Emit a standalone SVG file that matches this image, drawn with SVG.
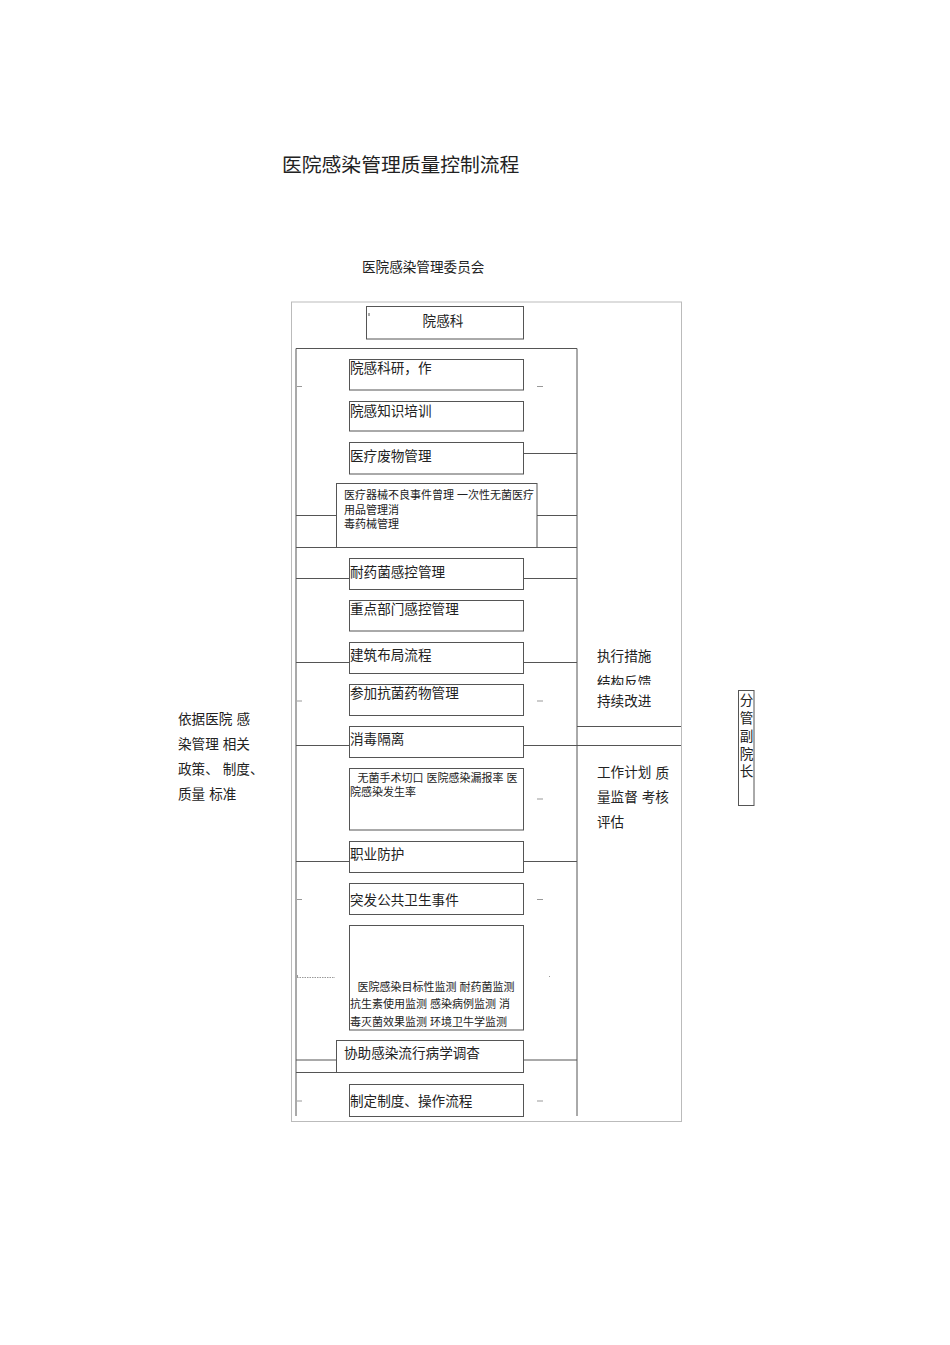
<svg xmlns="http://www.w3.org/2000/svg" width="950" height="1345" viewBox="0 0 950 1345">
<defs>
<style>
text{font-family:"Liberation Sans","Noto Sans CJK SC",sans-serif;fill:#222;}
.t{font-size:13.6px;dominant-baseline:central;}
.s{font-size:11px;dominant-baseline:central;}
.box{fill:#fff;stroke:#555;stroke-width:1;}
.ln{stroke:#555;stroke-width:1;fill:none;}
.dash{stroke:#999;stroke-width:1;}
</style>
<clipPath id="clipFb"><rect x="590" y="670" width="80" height="15"/></clipPath>
</defs>
<rect width="950" height="1345" fill="#fff"/>
<text x="282" y="165" style="font-size:19.8px;dominant-baseline:central">医院感染管理质量控制流程</text>
<text x="362" y="267" style="font-size:13.6px;dominant-baseline:central">医院感染管理委员会</text>
<rect x="291.5" y="302" width="390" height="819.5" fill="none" stroke="#bbb" stroke-width="1"/>

<g id="connectors">
<line class="ln" x1="296" y1="348.5" x2="577" y2="348.5"/>
<line class="ln" x1="296" y1="348.5" x2="296" y2="1116"/>
<line class="ln" x1="577" y1="348.5" x2="577" y2="1116"/>
<line class="ln" x1="523" y1="453.5" x2="577" y2="453.5"/>
<line class="ln" x1="296" y1="515.5" x2="336" y2="515.5"/>
<line class="ln" x1="537" y1="515.5" x2="577" y2="515.5"/>
<line class="ln" x1="296" y1="547.5" x2="577" y2="547.5"/>
<line class="ln" x1="296" y1="578.5" x2="349" y2="578.5"/>
<line class="ln" x1="523" y1="578.5" x2="577" y2="578.5"/>
<line class="ln" x1="296" y1="662.5" x2="349" y2="662.5"/>
<line class="ln" x1="523" y1="662.5" x2="577" y2="662.5"/>
<line class="ln" x1="577" y1="726.5" x2="681" y2="726.5"/>
<line class="ln" x1="296" y1="745.5" x2="349" y2="745.5"/>
<line class="ln" x1="523" y1="745.5" x2="681" y2="745.5"/>
<line class="ln" x1="296" y1="861.5" x2="349" y2="861.5"/>
<line class="ln" x1="523" y1="861.5" x2="577" y2="861.5"/>
<line class="ln" x1="296" y1="1060" x2="336" y2="1060"/>
<line class="ln" x1="523" y1="1060" x2="577" y2="1060"/>
<line class="ln" x1="296" y1="1072.5" x2="336" y2="1072.5"/>
<line class="dash" x1="297" y1="386.5" x2="302" y2="386.5"/>
<line class="dash" x1="537" y1="386.5" x2="543" y2="386.5"/>
<line class="dash" x1="297" y1="701" x2="302" y2="701"/>
<line class="dash" x1="537" y1="701" x2="543" y2="701"/>
<line class="dash" x1="537" y1="799" x2="543" y2="799"/>
<line class="dash" x1="297" y1="899.5" x2="302" y2="899.5"/>
<line class="dash" x1="537" y1="899.5" x2="543" y2="899.5"/>
<line class="dash" x1="297" y1="977.5" x2="335" y2="977.5" stroke-dasharray="1.5,1"/>
<line class="dash" x1="297.5" y1="975" x2="297.5" y2="978"/>
<line class="dash" x1="549" y1="976.5" x2="550" y2="976.5"/>
<line class="dash" x1="297" y1="1101" x2="302" y2="1101"/>
<line class="dash" x1="537" y1="1101" x2="543" y2="1101"/>
</g>

<g id="n-yuanganke">
<rect class="box" x="366.5" y="306.5" width="157" height="32.5"/>
<line x1="369" y1="313" x2="369" y2="316" stroke="#555"/>
<text class="t" x="443" y="321.5" text-anchor="middle">院感科</text>
</g>
<g id="n-keyan">
<rect class="box" x="349.5" y="359.5" width="174" height="30.5"/>
<text class="t" x="350" y="368.5">院感科研，作</text>
</g>
<g id="n-peixun">
<rect class="box" x="349.5" y="401.5" width="174" height="29.5"/>
<text class="t" x="350" y="411.5">院感知识培训</text>
</g>
<g id="n-feiwu">
<rect class="box" x="349.5" y="442.5" width="174" height="31.5"/>
<text class="t" x="350" y="456.5">医疗废物管理</text>
</g>
<g id="n-qixie">
<rect class="box" x="336.5" y="483.5" width="200.5" height="64"/>
<text class="s" x="344" y="494.5">医疗器械不良事件曾理<tspan dx="3">一次性无菌医疗</tspan></text>
<text class="s" x="344" y="509.5">用品管理消</text>
<text class="s" x="344" y="524">毒药械管理</text>
</g>
<g id="n-naiyao">
<rect class="box" x="349.5" y="558.5" width="174" height="31"/>
<text class="t" x="350" y="572.5">耐药菌感控管理</text>
</g>
<g id="n-zhongdian">
<rect class="box" x="349.5" y="600.5" width="174" height="30.5"/>
<text class="t" x="350" y="609.5">重点部门感控管理</text>
</g>
<g id="n-jianzhu">
<rect class="box" x="349.5" y="642.5" width="174" height="31"/>
<text class="t" x="350" y="655.5">建筑布局流程</text>
</g>
<g id="n-kangjun">
<rect class="box" x="349.5" y="684.5" width="174" height="31"/>
<text class="t" x="350" y="693.5">参加抗菌药物管理</text>
</g>
<g id="n-xiaodu">
<rect class="box" x="349.5" y="726.5" width="174" height="31"/>
<text class="t" x="350" y="739">消毒隔离</text>
</g>
<g id="n-wujun">
<rect class="box" x="349.5" y="768.5" width="174" height="61.5"/>
<text class="s" x="357.5" y="777.5">无菌手术切口<tspan dx="3">医院感染漏报率</tspan><tspan dx="3">医</tspan></text>
<text class="s" x="350" y="792">院感染发生率</text>
</g>
<g id="n-zhiye">
<rect class="box" x="349.5" y="841.5" width="174" height="31"/>
<text class="t" x="350" y="854.5">职业防护</text>
</g>
<g id="n-tufa">
<rect class="box" x="349.5" y="883.5" width="174" height="31"/>
<text class="t" x="350" y="900.5">突发公共卫生事件</text>
</g>
<g id="n-jiance">
<rect class="box" x="349.5" y="925.5" width="174" height="104.5"/>
<text class="s" x="357.5" y="986.5">医院感染目标性监测<tspan dx="3">耐药菌监测</tspan></text>
<text class="s" x="350" y="1004">抗生素使用监测<tspan dx="3">感染病例监测</tspan><tspan dx="3">消</tspan></text>
<text class="s" x="350" y="1022">毒灭菌效果监测<tspan dx="3">环境卫牛学监测</tspan></text>
</g>
<g id="n-liuxing">
<rect class="box" x="336.5" y="1040.5" width="187" height="32"/>
<text class="t" x="344" y="1053">协助感染流行病学调杳</text>
</g>
<g id="n-zhidu">
<rect class="box" x="349.5" y="1084.5" width="174" height="32"/>
<text class="t" x="350" y="1101.5">制定制度、操作流程</text>
</g>

<g id="n-zhixing">
<text class="t" x="597" y="656">执行措施</text>
<text class="t" x="597" y="682" clip-path="url(#clipFb)">结构反馈</text>
<text class="t" x="597" y="701">持续改进</text>
</g>
<g id="n-jihua">
<text class="t" x="597" y="772.5">工作计划<tspan dx="4">质</tspan></text>
<text class="t" x="597" y="797">量监督<tspan dx="4">考核</tspan></text>
<text class="t" x="597" y="822.5">评估</text>
</g>
<g id="n-yiju">
<text class="t" x="178" y="719">依据医院<tspan dx="4">感</tspan></text>
<text class="t" x="178" y="744">染管理<tspan dx="4">相关</tspan></text>
<text class="t" x="178" y="769">政策、<tspan dx="4">制度、</tspan></text>
<text class="t" x="178" y="794">质量<tspan dx="4">标准</tspan></text>
</g>
<g id="n-fuyuanzhang">
<rect class="box" x="738.5" y="690.5" width="15.5" height="115"/>
<text class="t" x="746.5" y="700.5" text-anchor="middle">分</text>
<text class="t" x="746.5" y="718.5" text-anchor="middle">管</text>
<text class="t" x="746.5" y="736.5" text-anchor="middle">副</text>
<text class="t" x="746.5" y="754" text-anchor="middle">院</text>
<text class="t" x="746.5" y="771.5" text-anchor="middle">长</text>
</g>
</svg>
